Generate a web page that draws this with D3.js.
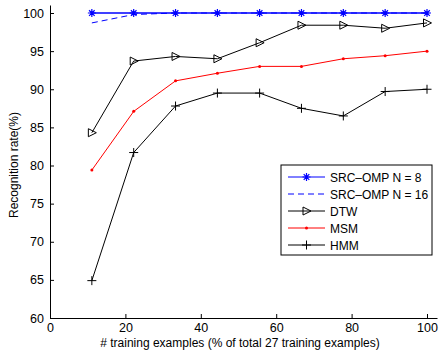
<!DOCTYPE html>
<html>
<head>
<meta charset="utf-8">
<script src="https://cdn.jsdelivr.net/npm/d3@7"></script>
<style>
  body { margin: 0; background: #fff; }
  text { font-family: "Liberation Sans", Arial, sans-serif; fill: #000; }
</style>
</head>
<body>
<div id="chart"></div>
<script>
// training fraction (% of 27 examples)
const xs = [11.1, 22.2, 33.3, 44.4, 55.6, 66.7, 77.8, 88.9, 100];
const srcOmp8 = [100, 100, 100, 100, 100, 100, 100, 100, 100];
const srcOmp16 = [98.7, 99.8, 100, 100, 100, 100, 100, 100, 100];
const dtw = [84.3, 93.7, 94.3, 94.0, 96.1, 98.4, 98.4, 98.0, 98.7];
const msm = [79.4, 87.1, 91.1, 92.1, 93.0, 93.0, 94.0, 94.4, 95.0];
const hmm = [64.9, 81.7, 87.8, 89.5, 89.5, 87.5, 86.5, 89.7, 90.0];
const xTicks = [0, 20, 40, 60, 80, 100];
const yTicks = [60, 65, 70, 75, 80, 85, 90, 95, 100];

const series = [
  { name: "SRC\u2013OMP N = 8", values: srcOmp8, color: "#0000ff", dash: null, marker: "star" },
  { name: "SRC\u2013OMP N = 16", values: srcOmp16, color: "#0000ff", dash: "6,4", marker: "none" },
  { name: "DTW", values: dtw, color: "#000", dash: null, marker: "tri" },
  { name: "MSM", values: msm, color: "#ff0000", dash: null, marker: "dot" },
  { name: "HMM", values: hmm, color: "#000", dash: null, marker: "plus" }
];

const width = 441, height = 351;
const svg = d3.select("#chart").append("svg")
  .attr("width", width).attr("height", height);

const x = d3.scaleLinear().domain([0, 102.65]).range([50, 437]);
const y = d3.scaleLinear().domain([60, 101.05]).range([318, 5]);

// axes (MATLAB style, ticks inward, no box)
const xAxis = svg.append("g").attr("transform", "translate(0,318)")
  .call(d3.axisBottom(x).tickValues(xTicks).tickSizeInner(-4).tickSizeOuter(0).tickPadding(5));
const yAxis = svg.append("g").attr("transform", "translate(50,0)")
  .call(d3.axisLeft(y).tickValues(yTicks).tickSizeInner(-4).tickSizeOuter(0).tickPadding(6));
[xAxis, yAxis].forEach(a => {
  a.selectAll("text").style("font-size", "12.5px").attr("fill", "#000");
  a.selectAll("path, line").attr("stroke", "#000");
});

svg.append("text")
  .attr("x", 240).attr("y", 347)
  .attr("text-anchor", "middle")
  .style("font-size", "12px")
  .text("# training examples (% of total 27 training examples)");

svg.append("text")
  .attr("transform", "translate(18,165) rotate(-90)")
  .attr("text-anchor", "middle")
  .style("font-size", "12px")
  .text("Recognition rate(%)");

function drawMarker(g, type, cx, cy, color) {
  if (type === "star") {
    const r = 4;
    g.append("path")
      .attr("d", `M${cx - r},${cy}H${cx + r}M${cx},${cy - r}V${cy + r}` +
        `M${cx - r * 0.7},${cy - r * 0.7}L${cx + r * 0.7},${cy + r * 0.7}` +
        `M${cx - r * 0.7},${cy + r * 0.7}L${cx + r * 0.7},${cy - r * 0.7}`)
      .attr("stroke", color).attr("stroke-width", 1.2).attr("fill", "none");
  } else if (type === "tri") {
    g.append("path")
      .attr("d", `M${cx - 3.5},${cy - 4}L${cx + 4.5},${cy}L${cx - 3.5},${cy + 4}Z`)
      .attr("stroke", color).attr("stroke-width", 1).attr("fill", "none");
  } else if (type === "dot") {
    g.append("circle").attr("cx", cx).attr("cy", cy).attr("r", 1.5).attr("fill", color);
  } else if (type === "plus") {
    const r = 4.5;
    g.append("path")
      .attr("d", `M${cx - r},${cy}H${cx + r}M${cx},${cy - r}V${cy + r}`)
      .attr("stroke", color).attr("stroke-width", 1).attr("fill", "none");
  }
}

const line = d3.line().x(d => x(d[0])).y(d => y(d[1]));
const plot = svg.append("g");
// draw lower series first so the blue lines stay on top
series.slice().reverse().forEach(s => {
  const pts = xs.map((v, i) => [v, s.values[i]]);
  plot.append("path")
    .datum(pts)
    .attr("d", line)
    .attr("fill", "none")
    .attr("stroke", s.color)
    .attr("stroke-width", s.marker === "star" ? 1.5 : 1)
    .attr("stroke-dasharray", s.dash);
  pts.forEach(p => drawMarker(plot, s.marker, x(p[0]), y(p[1]), s.color));
});

// legend
const lg = svg.append("g");
lg.append("rect")
  .attr("x", 281).attr("y", 165).attr("width", 151).attr("height", 90)
  .attr("fill", "#fff").attr("stroke", "#000").attr("stroke-width", 1);
series.forEach((s, i) => {
  const ly = 177 + i * 17;
  lg.append("line")
    .attr("x1", 288).attr("x2", 325).attr("y1", ly).attr("y2", ly)
    .attr("stroke", s.color).attr("stroke-width", 1)
    .attr("stroke-dasharray", s.dash);
  drawMarker(lg, s.marker, 306.5, ly, s.color);
  lg.append("text")
    .attr("x", 330).attr("y", ly + 4.5)
    .style("font-size", "12px")
    .text(s.name);
});
</script>
</body>
</html>
